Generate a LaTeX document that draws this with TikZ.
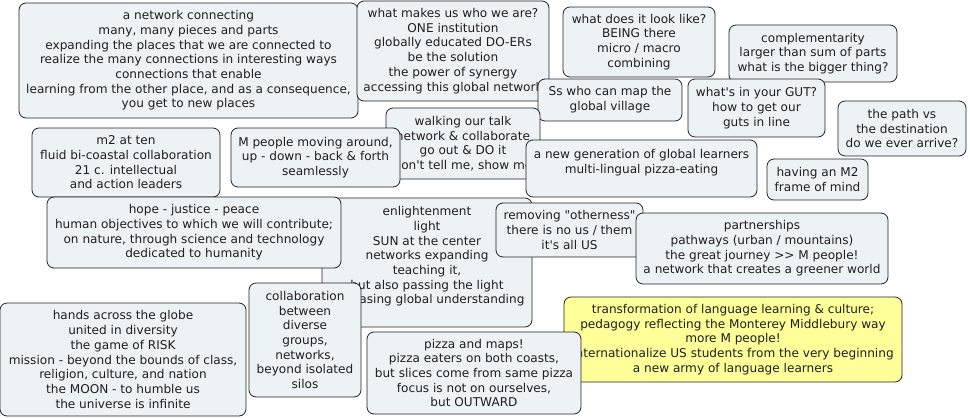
\documentclass[tikz,border=0pt]{standalone}
\usepackage{fontspec}
\setmainfont{DejaVu Sans}[Ligatures=TeXOff]
\usepackage{xcolor}
\usepackage{tikz}
\usetikzlibrary{positioning}

\definecolor{notefill}{RGB}{237,242,245}
\definecolor{noteyellow}{RGB}{255,255,153}
\definecolor{noteline}{RGB}{35,35,35}

\begin{document}
\begin{tikzpicture}[x=1pt, y=-1pt, font=\fontsize{12.1}{14.7}\selectfont,
  idea/.style={draw=noteline, fill=notefill, rounded corners=7pt, align=center,
    inner sep=0pt, text=black!88, line width=0.8pt},
  hilite/.style={idea, fill=noteyellow}]
        \useasboundingbox (0,0) rectangle (970,418);
        % top row
        \node[idea, minimum width=339, minimum height=115] (network) at (188.5,60.5)
          {a network connecting\\many, many pieces and parts\\expanding the places that we are connected to\\realize the many connections in interesting ways\\connections that enable\\learning from the other place, and as a consequence,\\you get to new places};
        \node[idea, minimum width=192, minimum height=100] (whoweare) at (453,51)
          {what makes us who we are?\\ONE institution\\globally educated DO-ERs\\be the solution\\the power of synergy\\accessing this global network};
        \node[idea, minimum width=152, minimum height=70] (looklike) at (639,42)
          {what does it look like?\\BEING there\\micro / macro\\combining};
        \node[idea, minimum width=168, minimum height=57] (bigger) at (813,53.5)
          {complementarity\\larger than sum of parts\\what is the bigger thing?};
        \node[idea, minimum width=144, minimum height=42] (mapvillage) at (610,100)
          {Ss who can map the\\global village};
        \node[idea, minimum width=137, minimum height=58] (gut) at (756.5,108)
          {what's in your GUT?\\how to get our\\guts in line};
        \node[idea, minimum width=128, minimum height=55] (path) at (902,128.5)
          {the path vs\\the destination\\do we ever arrive?};
        \node[idea, minimum width=101, minimum height=41] (mindframe) at (817.5,179.5)
          {having an M2\\frame of mind};
        % middle
        \node[idea, minimum width=154, minimum height=71] (talk) at (463,143.5)
          {walking our talk\\network \& collaborate\\go out \& DO it\\don't tell me, show me};
        \node[idea, minimum width=169, minimum height=59] (moving) at (315.5,157.5)
          {M people moving around,\\up - down - back \& forth\\seamlessly};
        \node[idea, minimum width=231, minimum height=57] (newgen) at (641.5,168.5)
          {a new generation of global learners\\multi-lingual pizza-eating\\};
        \node[idea, minimum width=188, minimum height=69] (mten) at (126,162.5)
          {m2 at ten\\fluid bi-coastal collaboration\\21 c. intellectual\\and action leaders};
        \node[idea, minimum width=210, minimum height=129] (light) at (427,262.5)
          {enlightenment\\light\\SUN at the center\\networks expanding\\teaching it,\\but also passing the light\\increasing global understanding\\};
        \node[idea, minimum width=294, minimum height=71] (hope) at (194,232.5)
          {hope - justice - peace\\human objectives to which we will contribute;\\on nature, through science and technology\\dedicated to humanity};
        \node[idea, minimum width=147, minimum height=54] (otherness) at (569.5,230)
          {removing "otherness"\\there is no us / them\\it's all US};
        \node[idea, minimum width=252, minimum height=71] (partners) at (762,248.5)
          {partnerships\\pathways (urban / mountains)\\the great journey >> M people!\\a network that creates a greener world};
        % bottom row
        \node[hilite, minimum width=338, minimum height=85] (language) at (733,339.5)
          {transformation of language learning \& culture;\\pedagogy reflecting the Monterey Middlebury way\\more M people!\\internationalize US students from the very beginning\\a new army of language learners};
        \node[idea, minimum width=246, minimum height=113] (hands) at (123,359.5)
          {hands across the globe\\united in diversity\\the game of RISK\\mission - beyond the bounds of class,\\religion, culture, and nation\\the MOON - to humble us\\the universe is infinite};
        \node[idea, minimum width=112, minimum height=114] (silos) at (305,340)
          {collaboration\\between\\diverse\\groups,\\networks,\\beyond isolated\\silos};
        \node[idea, minimum width=214, minimum height=82] (pizza) at (474,373)
          {pizza and maps!\\pizza eaters on both coasts,\\but slices come from same pizza\\focus is not on ourselves,\\but OUTWARD};
      \end{tikzpicture}
\end{document}
